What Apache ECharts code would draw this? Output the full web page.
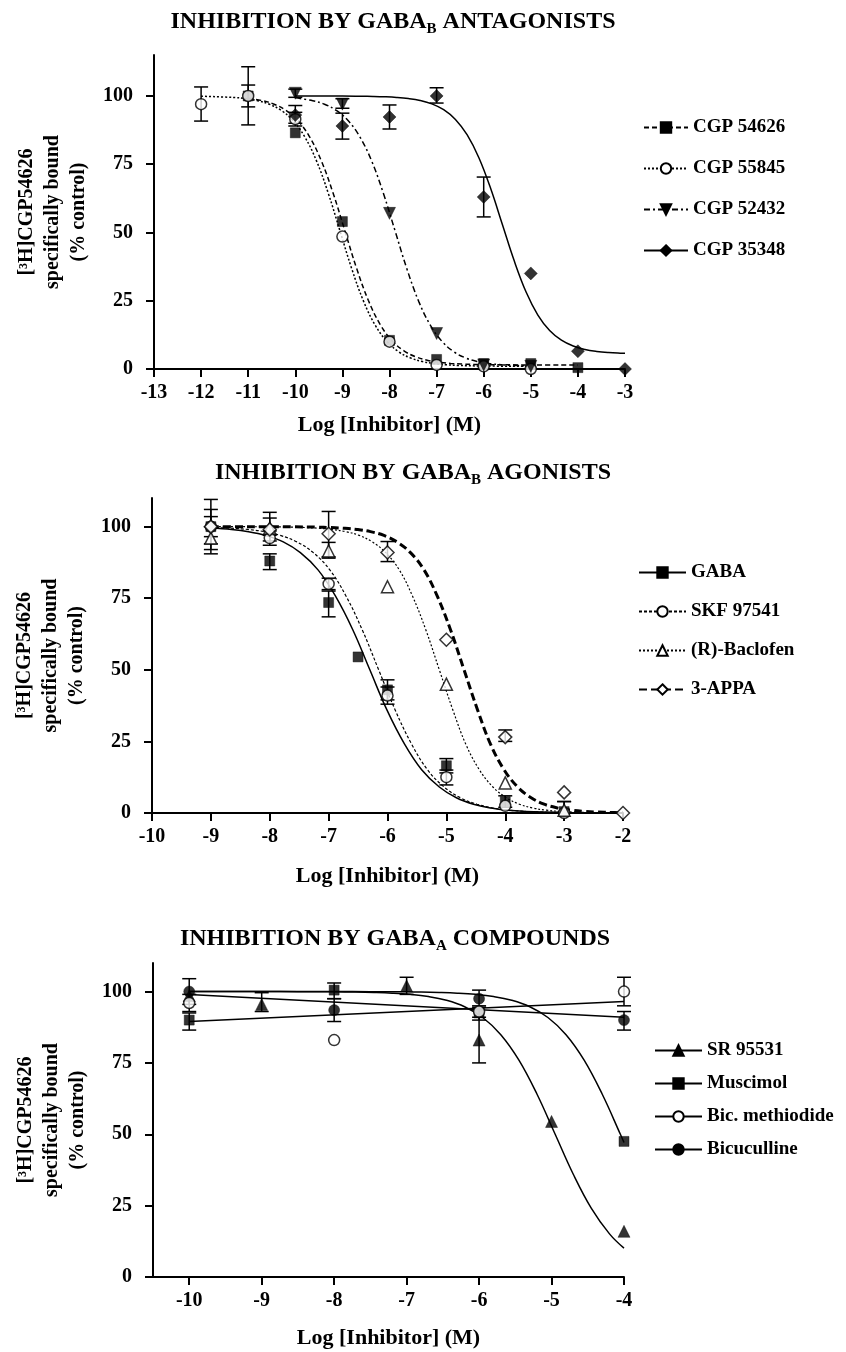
<!DOCTYPE html>
<html><head><meta charset="utf-8">
<script src="https://cdn.jsdelivr.net/npm/echarts@6/dist/echarts.min.js"></script>
<style>html,body{margin:0;padding:0;background:#fff}#c{width:846px;height:1352px}</style>
</head><body><div id="c"></div>
<script>
// ---------- shared ----------
const yTicks = [0, 25, 50, 75, 100];
// ---------- Panel A: GABA-B antagonists ----------
const A_xTicks = [-13, -12, -11, -10, -9, -8, -7, -6, -5, -4, -3];
const A_names = ['CGP 54626', 'CGP 55845', 'CGP 52432', 'CGP 35348'];
const A_pts_54626 = [[-11, 100], [-10, 86.5], [-9, 54], [-8, 10.5], [-7, 3.5], [-6, 2], [-5, 2], [-4, 0.5]];
const A_err_54626 = [[-11, 96, 104]];
const A_fit_54626 = [[-11, 99.13], [-10.7, 98.28], [-10.45, 96.98], [-10.2, 94.76], [-9.95, 91.05], [-9.7, 85.13], [-9.45, 76.34], [-9.2, 64.55], [-8.95, 50.75], [-8.7, 36.95], [-8.45, 25.16], [-8.2, 16.37], [-7.95, 10.45], [-7.7, 6.74], [-7.45, 4.52], [-7.2, 3.22], [-6.95, 2.48], [-6.7, 2.05], [-6.45, 1.81], [-5.95, 1.6], [-4.95, 1.5], [-4, 1.5]];
const A_pts_55845 = [[-12, 97], [-11, 100], [-10, 91.5], [-9, 48.5], [-8, 10], [-7, 1.5], [-6, 1], [-5, 0]];
const A_err_55845 = [[-12, 90.8, 103.3], [-11, 89.4, 110.7], [-10, 89, 94]];
const A_fit_55845 = [[-12, 99.9], [-11.3, 99.45], [-11.05, 99.02], [-10.8, 98.27], [-10.55, 96.97], [-10.3, 94.73], [-10.05, 91.0], [-9.8, 85.05], [-9.55, 76.22], [-9.3, 64.37], [-9.05, 50.5], [-8.8, 36.63], [-8.55, 24.78], [-8.3, 15.95], [-8.05, 10.0], [-7.8, 6.27], [-7.55, 4.03], [-7.3, 2.73], [-7.05, 1.98], [-6.8, 1.55], [-6.55, 1.31], [-6.05, 1.1], [-5, 1.0]];
const A_pts_52432 = [[-10, 101], [-9, 97], [-8, 57], [-7, 13], [-6, 1.5], [-5, 1]];
const A_err_52432 = [[-10, 99.5, 102.5], [-9, 95.5, 99]];
const A_fit_52432 = [[-10, 99.3], [-9.63, 98.27], [-9.38, 96.97], [-9.13, 94.73], [-8.88, 91.0], [-8.63, 85.05], [-8.38, 76.22], [-8.13, 64.37], [-7.88, 50.5], [-7.63, 36.63], [-7.38, 24.78], [-7.13, 15.95], [-6.88, 10.0], [-6.63, 6.27], [-6.38, 4.03], [-6.13, 2.73], [-5.88, 1.98], [-5.63, 1.55], [-5.38, 1.31], [-5, 1.12]];
const A_pts_35348 = [[-10, 93], [-9, 89], [-8, 92.3], [-7, 100], [-6, 63], [-5, 35], [-4, 6.5], [-3, 0]];
const A_err_35348 = [[-10, 90, 96.5], [-9, 84.2, 93.7], [-8, 87.9, 96.7], [-7, 97.4, 103], [-6, 55.7, 70.3]];
const A_fit_35348 = [[-10, 100], [-9, 99.98], [-8.6, 99.9], [-8.35, 99.83], [-8.1, 99.7], [-7.85, 99.47], [-7.6, 99.06], [-7.35, 98.35], [-7.1, 97.1], [-6.85, 94.97], [-6.6, 91.41], [-6.35, 85.73], [-6.1, 77.3], [-5.85, 65.99], [-5.6, 52.75], [-5.35, 39.51], [-5.1, 28.2], [-4.85, 19.77], [-4.6, 14.09], [-4.35, 10.53], [-4.1, 8.4], [-3.85, 7.15], [-3.6, 6.44], [-3.35, 6.03], [-3.1, 5.8], [-3, 5.76]];

// ---------- Panel B: GABA-B agonists ----------
const B_xTicks = [-10, -9, -8, -7, -6, -5, -4, -3, -2];
const B_names = ['GABA', 'SKF 97541', '(R)-Baclofen', '3-APPA'];
const B_pts_GABA = [[-9, 100], [-8, 88], [-7, 73.5], [-6.5, 54.5], [-6, 43], [-5, 16.5], [-4, 4], [-3, 0.5]];
const B_err_GABA = [[-9, 90.5, 109.5], [-8, 85, 90.5], [-7, 68.5, 77.5], [-6, 39.5, 46.5], [-5, 14, 19], [-4, 2, 6], [-3, 0, 4]];
const B_fit_GABA = [[-9, 99.5], [-8.65, 99.01], [-8.36, 98.25], [-8.07, 96.93], [-7.77, 94.68], [-7.48, 90.91], [-7.18, 84.9], [-6.89, 75.97], [-6.59, 64.01], [-6.3, 50.0], [-6.01, 35.99], [-5.71, 24.03], [-5.42, 15.1], [-5.12, 9.09], [-4.83, 5.32], [-4.54, 3.07], [-4.24, 1.75], [-3.95, 0.99], [-3.65, 0.56], [-3.36, 0.32], [-3.0, 0.17]];
const B_pts_SKF = [[-9, 100], [-8, 96], [-7, 80], [-6, 41], [-5, 12.5], [-4, 2.5], [-3, 0]];
const B_err_SKF = [[-9, 94, 106], [-8, 93.5, 98.5], [-7, 78, 82], [-6, 38, 44], [-5, 9.8, 15]];
const B_fit_SKF = [[-9, 99.7], [-8.65, 99.44], [-8.37, 99.01], [-8.09, 98.25], [-7.82, 96.93], [-7.54, 94.68], [-7.26, 90.91], [-6.98, 84.9], [-6.71, 75.97], [-6.43, 64.01], [-6.15, 50.0], [-5.87, 35.99], [-5.59, 24.03], [-5.32, 15.1], [-5.04, 9.09], [-4.76, 5.32], [-4.48, 3.07], [-4.21, 1.75], [-3.93, 0.99], [-3.65, 0.56], [-3.37, 0.32], [-3.0, 0.16]];
const B_pts_Bac = [[-9, 96], [-8, 99.5], [-7, 91.5], [-6, 79], [-5, 45], [-4, 10.5], [-3, 1]];
const B_err_Bac = [[-9, 92, 100], [-8, 97, 103], [-7, 89.5, 94.5]];
const B_fit_Bac = [[-9, 100], [-8.5, 99.98], [-8, 99.93], [-7.62, 99.82], [-7.39, 99.68], [-7.17, 99.44], [-6.94, 99.01], [-6.71, 98.25], [-6.48, 96.93], [-6.26, 94.68], [-6.03, 90.91], [-5.8, 84.9], [-5.58, 75.97], [-5.35, 64.01], [-5.12, 50.0], [-4.89, 35.99], [-4.67, 24.03], [-4.44, 15.1], [-4.21, 9.09], [-3.98, 5.32], [-3.76, 3.07], [-3.53, 1.75], [-3.3, 0.99], [-3.08, 0.56], [-2.85, 0.32], [-2.62, 0.18], [-2.39, 0.1], [-2, 0.04]];
const B_pts_APPA = [[-9, 100], [-8, 99], [-7, 97.5], [-6, 91], [-5, 60.5], [-4, 26.5], [-3, 7.2], [-2, 0]];
const B_err_APPA = [[-9, 96.5, 103.5], [-8, 95, 105], [-7, 89, 105.3], [-6, 87.8, 94.8], [-4, 25, 29], [-3, 0, 4]];
const B_fit_APPA = [[-9, 100], [-8.5, 99.99], [-8, 99.98], [-7.6, 99.93], [-7.2, 99.82], [-6.97, 99.68], [-6.75, 99.44], [-6.52, 99.01], [-6.29, 98.25], [-6.06, 96.93], [-5.84, 94.68], [-5.61, 90.91], [-5.38, 84.9], [-5.16, 75.97], [-4.93, 64.01], [-4.7, 50.0], [-4.47, 35.99], [-4.25, 24.03], [-4.02, 15.1], [-3.79, 9.09], [-3.56, 5.32], [-3.34, 3.07], [-3.11, 1.75], [-2.88, 0.99], [-2.66, 0.56], [-2.43, 0.32], [-2.2, 0.18], [-2, 0.1]];

// ---------- Panel C: GABA-A compounds ----------
const C_xTicks = [-10, -9, -8, -7, -6, -5, -4];
const C_names = ['SR 95531', 'Muscimol', 'Bic. methiodide', 'Bicuculline'];
const C_pts_SR = [[-10, 98.5], [-9, 95.5], [-7, 102], [-6, 83], [-5, 54.5], [-4, 16]];
const C_err_SR = [[-9, 93, 99.6], [-7, 99, 105], [-6, 75, 91]];
const C_fit_SR = [[-10, 100], [-9, 99.99], [-8.5, 99.96], [-8, 99.9], [-7.7, 99.82], [-7.45, 99.68], [-7.2, 99.44], [-6.95, 99.01], [-6.7, 98.25], [-6.45, 96.93], [-6.2, 94.68], [-5.95, 90.91], [-5.7, 84.9], [-5.45, 75.97], [-5.2, 64.01], [-4.95, 50.0], [-4.7, 35.99], [-4.45, 24.03], [-4.2, 15.1], [-4, 10.1]];
const C_pts_Mus = [[-10, 90], [-8, 100.5], [-6, 92.5], [-4, 47.5]];
const C_err_Mus = [[-10, 86.5, 92.5], [-8, 97.5, 103], [-6, 90, 95]];
const C_fit_Mus = [[-10, 100], [-9, 100], [-8, 99.99], [-7.5, 99.96], [-7, 99.9], [-6.8, 99.82], [-6.55, 99.68], [-6.3, 99.44], [-6.05, 99.01], [-5.8, 98.25], [-5.55, 96.93], [-5.3, 94.68], [-5.05, 90.91], [-4.8, 84.9], [-4.55, 75.97], [-4.3, 64.01], [-4.05, 50.0], [-4, 47.1]];
const C_pts_BicM = [[-10, 96], [-8, 83], [-6, 93], [-4, 100]];
const C_err_BicM = [[-10, 93, 99], [-4, 95, 105]];
const C_fit_BicM = [[-10, 89.5], [-4, 96.5]];
const C_pts_Bic = [[-10, 100], [-8, 93.5], [-6, 97.5], [-4, 90]];
const C_err_Bic = [[-10, 95.5, 104.5], [-8, 89.5, 97.5], [-6, 94.5, 100.5], [-4, 86.5, 93]];
const C_fit_Bic = [[-10, 99], [-4, 91]];

// ---------- helpers ----------
const FONT = 'Liberation Serif';
const BLACK = '#000';
function errRender(params, api) {
  const x = api.value(0), lo = api.value(1), hi = api.value(2);
  const p1 = api.coord([x, lo]), p2 = api.coord([x, hi]);
  const w = 7;
  const st = { stroke: BLACK, lineWidth: 1.5 };
  return { type: 'group', children: [
    { type: 'line', shape: { x1: p1[0], y1: p1[1], x2: p2[0], y2: p2[1] }, style: st },
    { type: 'line', shape: { x1: p1[0] - w, y1: p1[1], x2: p1[0] + w, y2: p1[1] }, style: st },
    { type: 'line', shape: { x1: p2[0] - w, y1: p2[1], x2: p2[0] + w, y2: p2[1] }, style: st }
  ] };
}
const series = [];
function addCompound(gi, name, fit, pts, err, mk, line) {
  const itemStyle = { color: mk.open ? '#fff' : BLACK, borderColor: BLACK, borderWidth: mk.open ? 1.5 : 0.5 };
  series.push({ type: 'line', name, xAxisIndex: gi, yAxisIndex: gi, data: fit, showSymbol: false,
    symbol: mk.symbol, symbolSize: mk.size, symbolRotate: mk.rotate || 0,
    smooth: 0.4, lineStyle: Object.assign({ color: BLACK, width: 1.5 }, line),
    itemStyle, z: 2, silent: true, animation: false });
  series.push({ type: 'custom', name, xAxisIndex: gi, yAxisIndex: gi, data: err, renderItem: errRender,
    encode: { x: 0, y: [1, 2] }, z: 1, silent: true, animation: false });
  series.push({ type: 'scatter', name, xAxisIndex: gi, yAxisIndex: gi, data: pts,
    symbol: mk.symbol, symbolSize: mk.size, symbolRotate: mk.rotate || 0, itemStyle, z: 3, silent: true, animation: false });
}
const SQ = { symbol: 'rect', size: 10 };
const OC = { symbol: 'circle', size: 11, open: true };
const FC = { symbol: 'circle', size: 11 };
const DT = { symbol: 'triangle', size: 12, rotate: 180 };
const UT = { symbol: 'triangle', size: 12 };
const OT = { symbol: 'triangle', size: 12, open: true };
const FD = { symbol: 'diamond', size: 13 };
const OD = { symbol: 'diamond', size: 13, open: true };

addCompound(0, A_names[0], A_fit_54626, A_pts_54626, A_err_54626, SQ, { type: [5, 3] });
addCompound(0, A_names[1], A_fit_55845, A_pts_55845, A_err_55845, OC, { type: [2, 2] });
addCompound(0, A_names[2], A_fit_52432, A_pts_52432, A_err_52432, DT, { type: [6, 3, 2, 3] });
addCompound(0, A_names[3], A_fit_35348, A_pts_35348, A_err_35348, FD, { type: 'solid' });

addCompound(1, B_names[0], B_fit_GABA, B_pts_GABA, B_err_GABA, SQ, { type: 'solid' });
addCompound(1, B_names[1], B_fit_SKF, B_pts_SKF, B_err_SKF, OC, { type: [3, 2], width: 1.2 });
addCompound(1, B_names[2], B_fit_Bac, B_pts_Bac, B_err_Bac, OT, { type: [2, 2], width: 1.2 });
addCompound(1, B_names[3], B_fit_APPA, B_pts_APPA, B_err_APPA, OD, { type: [8, 4], width: 3 });

addCompound(2, C_names[0], C_fit_SR, C_pts_SR, C_err_SR, UT, { type: 'solid' });
addCompound(2, C_names[1], C_fit_Mus, C_pts_Mus, C_err_Mus, SQ, { type: 'solid' });
addCompound(2, C_names[2], C_fit_BicM, C_pts_BicM, C_err_BicM, OC, { type: 'solid' });
addCompound(2, C_names[3], C_fit_Bic, C_pts_Bic, C_err_Bic, FC, { type: 'solid' });

const grids = [
  { left: 154, top: 55, width: 471, height: 314 },
  { left: 152, top: 498, width: 471, height: 315 },
  { left: 153, top: 963, width: 471, height: 314 }
];
const xRanges = [[-13, -3, A_xTicks], [-10, -2, B_xTicks], [-10.5, -4, C_xTicks]];
const yMax = [115, 110, 110];
const xNameGap = [45, 52, 50];
const axisCommon = {
  axisLine: { onZero: false, lineStyle: { color: BLACK, width: 2 } },
  axisTick: { length: 8, lineStyle: { color: BLACK, width: 2 } },
  splitLine: { show: false }
};
const xAxis = xRanges.map((r, i) => ({
  type: 'value', gridIndex: i, min: r[0], max: r[1],
  axisLine: axisCommon.axisLine, splitLine: axisCommon.splitLine,
  axisTick: Object.assign({ customValues: r[2] }, axisCommon.axisTick),
  axisLabel: { customValues: r[2], margin: 14, fontFamily: FONT, fontWeight: 'bold', fontSize: 20, color: BLACK },
  name: 'Log [Inhibitor] (M)', nameLocation: 'middle', nameGap: xNameGap[i],
  nameTextStyle: { fontFamily: FONT, fontWeight: 'bold', fontSize: 22, color: BLACK }
}));
const yAxis = yMax.map((m, i) => ({
  type: 'value', gridIndex: i, min: 0, max: m,
  axisLine: { show: true, onZero: false, lineStyle: { color: BLACK, width: 2 } }, splitLine: axisCommon.splitLine,
  axisTick: Object.assign({ show: true, customValues: yTicks }, axisCommon.axisTick),
  axisLabel: { customValues: yTicks, margin: 21, fontFamily: FONT, fontWeight: 'bold', fontSize: 20, color: BLACK },
  name: '[³H]CGP54626\nspecifically bound\n(% control)', nameLocation: 'middle', nameGap: 45, nameRotate: 90,
  nameTextStyle: { fontFamily: FONT, fontWeight: 'bold', fontSize: 20, lineHeight: 26, color: BLACK, align: 'center' }
}));
const richTitle = {
  m: { fontFamily: FONT, fontWeight: 'bold', fontSize: 24, lineHeight: 30, color: BLACK },
  s: { fontFamily: FONT, fontWeight: 'bold', fontSize: 15, lineHeight: 15, verticalAlign: 'bottom', color: BLACK }
};
function mkTitle(a, b, c, left, top) {
  return { text: '{m|' + a + '}{s|' + b + '}{m|' + c + '}', left, textAlign: 'center', top, textStyle: { rich: richTitle } };
}
const title = [
  mkTitle('INHIBITION BY GABA', 'B', ' ANTAGONISTS', 388, 2),
  mkTitle('INHIBITION BY GABA', 'B', ' AGONISTS', 408, 453),
  mkTitle('INHIBITION BY GABA', 'A', ' COMPOUNDS', 390, 919)
];
const legendCommon = {
  orient: 'vertical', itemHeight: 13,
  textStyle: { fontFamily: FONT, fontWeight: 'bold', fontSize: 19, color: BLACK },
  selectedMode: false
};
const legend = [
  Object.assign({ data: A_names, left: 638, top: 113, itemWidth: 44, itemGap: 22 }, legendCommon),
  Object.assign({ data: B_names, left: 633, top: 558, itemWidth: 47, itemGap: 20 }, legendCommon),
  Object.assign({ data: C_names, left: 649, top: 1036, itemWidth: 47, itemGap: 14 }, legendCommon)
];
const chart = echarts.init(document.getElementById('c'), null, { renderer: 'canvas' });
chart.setOption({ animation: false, backgroundColor: '#fff', title, legend, grid: grids, xAxis, yAxis, series });
</script></body></html>
